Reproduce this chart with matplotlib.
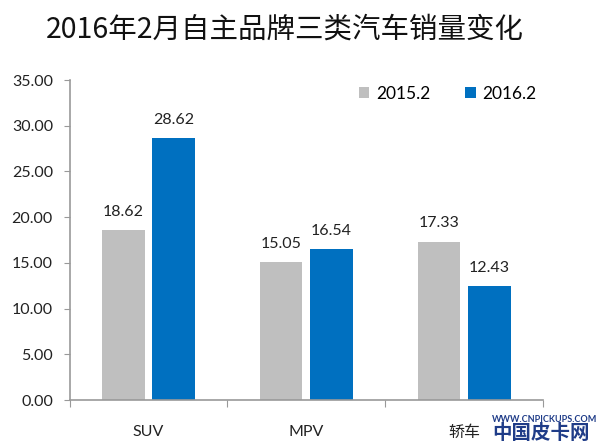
import numpy as np
import matplotlib
matplotlib.use("Agg")
import matplotlib.pyplot as plt

plt.rcParams['font.family'] = ['Lato', 'Noto Sans CJK SC', 'DejaVu Sans']

# data
categories = ["SUV", "MPV", "轿车"]
series_names = ["2015.2", "2016.2"]
vals_2015 = [18.62, 15.05, 17.33]
vals_2016 = [28.62, 16.54, 12.43]

grey = "#BFBFBF"
blue = "#0070C0"
axis_col = "#999999"

fig = plt.figure(figsize=(6, 4.47), dpi=100)
ax = fig.add_axes([0.116, 0.105, 0.789, 0.716])

x = np.arange(len(categories))
w = 0.27
off = 0.16
b1 = ax.bar(x - off, vals_2015, w, color=grey, label=series_names[0])
b2 = ax.bar(x + off, vals_2016, w, color=blue, label=series_names[1])

for bars in (b1, b2):
    for r in bars:
        ax.annotate("%.2f" % r.get_height(),
                    (r.get_x() + r.get_width() / 2, r.get_height()),
                    xytext=(0, 8), textcoords="offset points",
                    ha="center", va="bottom", fontsize=11.5, color="#222222")

ax.set_xlim(-0.5, 2.5)
ax.set_ylim(0, 35)
ax.set_yticks(np.arange(0, 35.1, 5))
ax.set_yticklabels(["%.2f" % v for v in np.arange(0, 35.1, 5)])
ax.tick_params(axis="y", labelsize=11.5, colors=axis_col, labelcolor="#222222", length=4, pad=8)

# category ticks sit on the boundaries, labels in the middle
ax.set_xticks([-0.5, 0.5, 1.5, 2.5])
ax.set_xticklabels([])
ax.set_xticks(x, minor=True)
ax.set_xticklabels(categories, minor=True)
ax.tick_params(axis="x", which="major", length=5, colors=axis_col)
ax.tick_params(axis="x", which="minor", length=0, labelsize=11.5, labelcolor="#222222", pad=18)

for s in ("top", "right"):
    ax.spines[s].set_visible(False)
for s in ("left", "bottom"):
    ax.spines[s].set_color(axis_col)
    ax.spines[s].set_linewidth(1.2)

ax.legend(loc="upper right", bbox_to_anchor=(1.02, 1.03), ncol=2, frameon=False,
          fontsize=12.5, handlelength=0.6, handleheight=0.6, handletextpad=0.4,
          columnspacing=2.0)

fig.text(0.475, 0.933, "2016年2月自主品牌三类汽车销量变化", ha="center", va="center",
         fontsize=20.5, family=["Noto Sans CJK SC"], color="#111111")

# watermark
fig.text(0.82, 0.062, "WWW.CNPICKUPS.COM", ha="left", va="center",
         fontsize=6.5, weight="bold", color="#1f3c88")
fig.text(0.82, 0.01, "中国皮卡网", ha="left", va="bottom",
         fontsize=14, weight="bold", color="#1f3c88", family=["Noto Sans CJK SC"])

fig.savefig("out.png", dpi=100)
